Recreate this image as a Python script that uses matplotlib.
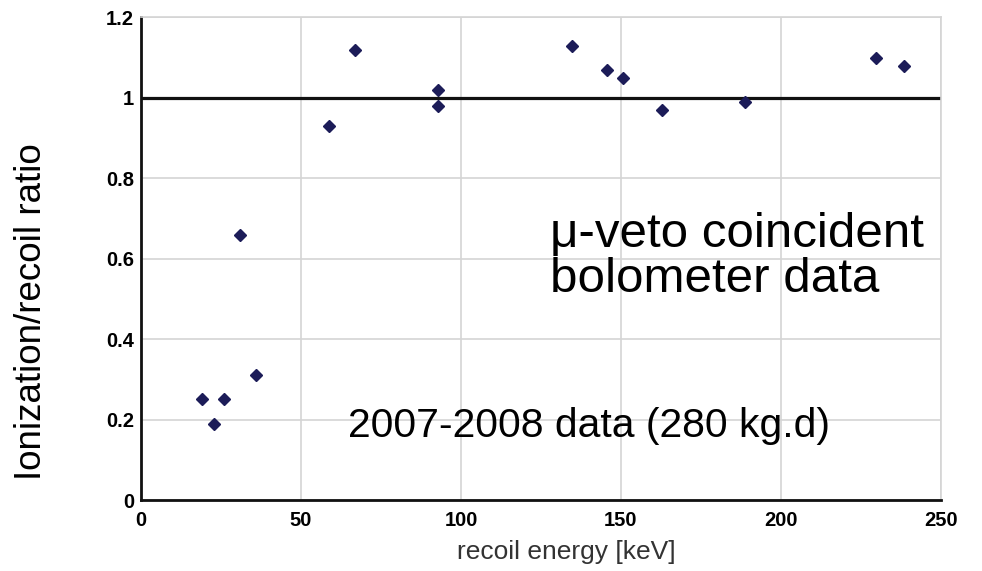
import matplotlib.pyplot as plt
import numpy as np

plt.rcParams['font.family'] = ['Liberation Sans', 'DejaVu Sans']

# data
energy = [19.0, 22.9, 25.9, 30.9, 35.8, 58.6, 66.8, 92.9, 92.9,
          134.7, 145.7, 150.7, 162.8, 188.8, 229.7, 238.5]
ratio = [0.25, 0.19, 0.25, 0.66, 0.31, 0.93, 1.12, 1.02, 0.98,
         1.13, 1.07, 1.05, 0.97, 0.99, 1.10, 1.08]
ref_ratio = 1.0

xticks = [0, 50, 100, 150, 200, 250]
yticks = [0, 0.2, 0.4, 0.6, 0.8, 1.0, 1.2]
ytick_labels = ['0', '0.2', '0.4', '0.6', '0.8', '1', '1.2']

fig = plt.figure(figsize=(9.82, 5.71), dpi=100)
ax = fig.add_axes([0.1436, 0.1243, 0.8146, 0.8451])

grid_col = '#d4d4d4'
ax.set_xlim(0, 250)
ax.set_ylim(0, 1.2)
ax.set_xticks(xticks)
ax.set_yticks(yticks)
ax.set_yticklabels(ytick_labels)
ax.grid(True, color=grid_col, linewidth=1.2)
ax.set_axisbelow(True)
ax.tick_params(length=0, labelsize=14.5, pad=5)
ax.tick_params(axis='x', pad=8)
for lab in ax.get_xticklabels() + ax.get_yticklabels():
    lab.set_fontweight('bold')

for side in ['top', 'right']:
    ax.spines[side].set_color(grid_col)
    ax.spines[side].set_linewidth(1.2)
for side in ['left', 'bottom']:
    ax.spines[side].set_color('#111111')
    ax.spines[side].set_linewidth(2)

ax.axhline(ref_ratio, color='#111111', linewidth=2.3, zorder=2)
ax.plot(energy, ratio, linestyle='none', marker='D', markersize=5.8,
        color='#1c1c58', zorder=3)

# annotations
ax.text(127.8, 0.630, 'μ-veto coincident', fontsize=35.5, va='baseline', ha='left')
ax.text(127.8, 0.518, 'bolometer data', fontsize=35.5, va='baseline', ha='left')
ax.text(64.7, 0.1575, '2007-2008 data (280 kg.d)', fontsize=29.4, va='baseline', ha='left')

fig.text(32 / 982, 1 - 311.5 / 571, 'Ionization/recoil ratio', fontsize=26.5,
         rotation=90, ha='center', va='center')
fig.text(566.5 / 982, 1 - 552 / 571, 'recoil energy [keV]', fontsize=19,
         color='#333333', ha='center', va='center')

fig.savefig('out.png', dpi=100)
